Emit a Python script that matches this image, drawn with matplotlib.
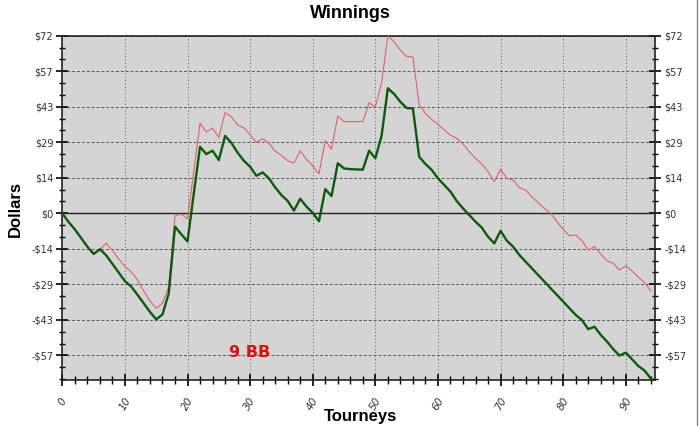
import matplotlib
matplotlib.use("Agg")
import matplotlib.pyplot as plt
from matplotlib.ticker import MultipleLocator, FixedLocator
from matplotlib.lines import Line2D

tourneys = list(range(95))

net_winnings = [0, -3.5, -6.5, -10, -13.5, -16.5, -14.6, -17, -20.5, -24,
                -27.5, -29.7, -33, -36.5, -40, -43, -41, -32.5, -5.4, -8.5,
                -11.4, 8, 27, 24, 25.4, 21.6, 31.4, 28.6, 24.6, 21.3,
                18.9, 15.2, 16.6, 14.2, 10.5, 7.4, 5, 1.1, 5.9, 2.7,
                0.2, -3.2, 9.8, 7, 20.3, 18.2, 17.9, 17.8, 17.7, 25.4,
                22.3, 31.5, 50.7, 48.4, 45.2, 42.7, 42.5, 22.9, 20, 17.6,
                14.2, 11.5, 8.8, 5, 2, -0.7, -3.4, -5.8, -9.5, -12.2,
                -7.1, -11.1, -13.5, -16.9, -19.6, -22.3, -25, -27.7, -30.4, -33.1,
                -35.8, -38.5, -41.2, -43.3, -47, -46, -49.3, -52, -55.1, -57.7,
                -56.5, -59.2, -61.9, -63.8, -67]

with_bonus = [0, -3.5, -6.5, -10, -13.5, -16.5, -14.6, -12.2, -15, -18.5,
              -21.6, -23.7, -27, -31.5, -35.5, -38.5, -36.5, -29.7, -1, -0.3,
              -2.3, 17, 36.5, 33, 34.5, 30.8, 40.8, 39.2, 35.8, 34.7,
              31.8, 28.8, 30.2, 28.4, 25.2, 23.5, 21.3, 20.4, 25.3, 21.9,
              19.3, 16, 29.5, 26, 39.4, 37.2, 37.2, 37.2, 37.2, 44.8,
              43.1, 53, 72, 69.5, 66.2, 63.6, 63.4, 44, 40.5, 38.1,
              36.1, 33.8, 31.7, 30.4, 28.1, 25, 22.3, 20, 16.9, 12.8,
              17.8, 14.2, 13.5, 10.4, 9.4, 6.7, 4.3, 2, 0, -3.4,
              -6.5, -9.1, -8.8, -11.1, -14.9, -13.5, -16.5, -19.3, -20.3, -23,
              -21.4, -23.4, -25.9, -28.1, -31.4]

y_tick_values = [-57.6, -43.2, -28.8, -14.4, 0, 14.4, 28.8, 43.2, 57.6, 72]
y_tick_labels = ["-$57", "-$43", "-$29", "-$14", "$0", "$14", "$29", "$43", "$57", "$72"]
x_tick_values = [0, 10, 20, 30, 40, 50, 60, 70, 80, 90]

fig = plt.figure(figsize=(7.0, 4.26), dpi=100)
fig.patch.set_facecolor("white")
ax = fig.add_axes([0.089, 0.108, 0.847, 0.808])
ax.set_facecolor("#d4d4d4")

ax.set_xlim(0, 94.7)
ax.set_ylim(-67.6, 72)

# grid
for xv in x_tick_values[1:]:
    ax.axvline(xv, color="#5a5a5a", lw=0.7, ls=(0, (1, 2.5)), zorder=1)
for yv in y_tick_values:
    if yv != 0:
        ax.axhline(yv, color="#5a5a5a", lw=0.7, ls=(0, (3, 2)), zorder=1)
ax.axhline(0, color="#222222", lw=1.0, zorder=2)

ax.plot(tourneys, with_bonus, color="#e06060", lw=0.8, zorder=3)
ax.plot(tourneys, net_winnings, color="#0c5a0c", lw=1.7, zorder=4)

ax.text(29.9, -56.5, "9 BB", color="#dd1111", fontsize=11.5, fontweight="bold",
        ha="center", va="center", zorder=5)

# ticks
ax.yaxis.set_major_locator(FixedLocator(y_tick_values))
ax.yaxis.set_minor_locator(MultipleLocator(4.8))
ax.set_yticklabels(y_tick_labels)
ax.xaxis.set_major_locator(FixedLocator(x_tick_values))
ax.xaxis.set_minor_locator(MultipleLocator(2))
ax.tick_params(axis="y", which="major", direction="inout", length=9, width=1.2,
               labelsize=7, labelcolor="#333333", left=True, right=True,
               labelleft=True, labelright=True, pad=2)
ax.tick_params(axis="y", which="minor", direction="inout", length=5, width=1.0,
               left=True, right=True)
ax.tick_params(axis="x", which="major", direction="inout", length=9, width=1.2,
               labelsize=7.5, labelcolor="#333333", bottom=True, top=False, pad=7)
ax.tick_params(axis="x", which="minor", direction="inout", length=6, width=1.0,
               bottom=True, top=False)
for lbl in ax.get_xticklabels():
    lbl.set_rotation(60)
    lbl.set_ha("center")
    lbl.set_va("top")
    lbl.set_fontstyle("italic")

for s in ["left", "right", "bottom", "top"]:
    ax.spines[s].set_color("#222222")
    ax.spines[s].set_linewidth(1.2)

fig.text(0.5, 0.968, "Winnings", ha="center", va="center",
         fontsize=13, fontweight="bold", family="Liberation Sans")
fig.text(0.022, 0.51, "Dollars", ha="center", va="center", rotation=90,
         fontsize=12, fontweight="bold", family="Liberation Sans")
fig.text(0.515, 0.022, "Tourneys", ha="center", va="center",
         fontsize=12, fontweight="bold", family="Liberation Sans")

fig.add_artist(Line2D([0.995, 0.995], [0.0, 1.0], transform=fig.transFigure,
                      color="#888888", lw=1.0))

fig.savefig("out.png", dpi=100)
